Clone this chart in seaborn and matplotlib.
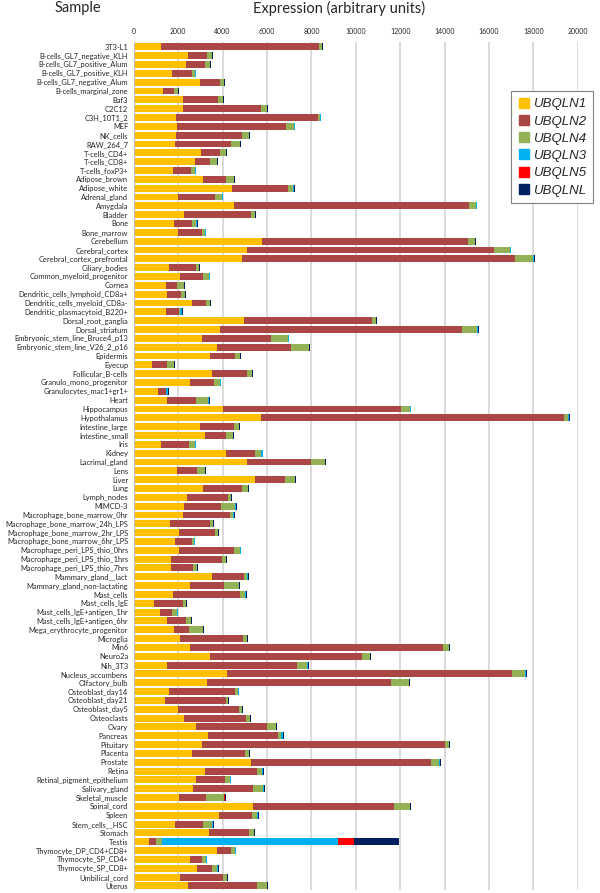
import numpy as np
import pandas as pd
import seaborn as sns
import matplotlib.pyplot as plt
from matplotlib.lines import Line2D

samples = ['3T3-L1', 'B-cells_GL7_negative_KLH', 'B-cells_GL7_positive_Alum', 'B-cells_GL7_positive_KLH',
           'B-cells_GL7_negative_Alum', 'B-cells_marginal_zone', 'Baf3', 'C2C12', 'C3H_10T1_2', 'MEF',
           'NK_cells', 'RAW_264_7', 'T-cells_CD4+', 'T-cells_CD8+', 'T-cells_foxP3+', 'Adipose_brown',
           'Adipose_white', 'Adrenal_gland', 'Amygdala', 'Bladder', 'Bone', 'Bone_marrow', 'Cerebellum',
           'Cerebral_cortex', 'Cerebral_cortex_prefrontal', 'Ciliary_bodies', 'Common_myeloid_progenitor',
           'Cornea', 'Dendritic_cells_lymphoid_CD8a+', 'Dendritic_cells_myeloid_CD8a-',
           'Dendritic_plasmacytoid_B220+', 'Dorsal_root_ganglia', 'Dorsal_striatum',
           'Embryonic_stem_line_Bruce4_p13', 'Embryonic_stem_line_V26_2_p16', 'Epidermis', 'Eyecup',
           'Follicular_B-cells', 'Granulo_mono_progenitor', 'Granulocytes_mac1+gr1+', 'Heart', 'Hippocampus',
           'Hypothalamus', 'Intestine_large', 'Intestine_small', 'Iris', 'Kidney', 'Lacrimal_gland', 'Lens',
           'Liver', 'Lung', 'Lymph_nodes', 'MIMCD-3', 'Macrophage_bone_marrow_0hr',
           'Macrophage_bone_marrow_24h_LPS', 'Macrophage_bone_marrow_2hr_LPS', 'Macrophage_bone_marrow_6hr_LPS',
           'Macrophage_peri_LPS_thio_0hrs', 'Macrophage_peri_LPS_thio_1hrs', 'Macrophage_peri_LPS_thio_7hrs',
           'Mammary_gland__lact', 'Mammary_gland_non-lactating', 'Mast_cells', 'Mast_cells_IgE',
           'Mast_cells_IgE+antigen_1hr', 'Mast_cells_IgE+antigen_6hr', 'Mega_erythrocyte_progenitor',
           'Microglia', 'Min6', 'Neuro2a', 'Nih_3T3', 'Nucleus_accumbens', 'Olfactory_bulb',
           'Osteoblast_day14', 'Osteoblast_day21', 'Osteoblast_day5', 'Osteoclasts', 'Ovary', 'Pancreas',
           'Pituitary', 'Placenta', 'Prostate', 'Retina', 'Retinal_pigment_epithelium', 'Salivary_gland',
           'Skeletal_muscle', 'Spinal_cord', 'Spleen', 'Stem_cells__HSC', 'Stomach', 'Testis',
           'Thymocyte_DP_CD4+CD8+', 'Thymocyte_SP_CD4+', 'Thymocyte_SP_CD8+', 'Umbilical_cord', 'Uterus']

ubqln1 = [1240, 2450, 2360, 1720, 2980, 1310, 2210, 2210, 1900, 1930,
          1900, 1860, 3020, 2760, 1760, 3100, 4430, 1980, 4520, 2260,
          1810, 1980, 5780, 5090, 4880, 1600, 2100, 1470, 1500, 2600,
          1450, 4970, 3900, 3050, 3740, 3450, 810, 3520, 2530, 1070,
          1500, 4030, 5720, 2970, 3210, 1220, 4170, 5090, 1930, 5450,
          3100, 2400, 2260, 2210, 1620, 2030, 1840, 2050, 1660, 1670,
          3520, 2520, 1760, 900, 1170, 1480, 1830, 2100, 2520, 3450,
          1500, 4190, 3310, 1590, 1410, 2000, 2260, 2780, 3340, 3070,
          2640, 5290, 3220, 2780, 2660, 2050, 5380, 3830, 1860, 3380,
          670, 3760, 2530, 2830, 2090, 2430]
ubqln2 = [7120, 830, 860, 900, 900, 500, 1580, 3510, 6410, 4930,
          2960, 2500, 860, 690, 810, 1040, 2520, 1680, 10580, 3020,
          810, 1090, 9290, 11120, 12310, 1190, 1000, 460, 620, 660,
          570, 5770, 10880, 3120, 3330, 1100, 670, 1570, 1070, 380,
          1290, 8000, 13660, 1530, 950, 1280, 1310, 2890, 930, 1360,
          1780, 1860, 1670, 2120, 1810, 1630, 780, 2470, 2310, 990,
          1450, 1530, 3020, 1310, 550, 860, 670, 2830, 11410, 6830,
          5860, 12860, 8280, 2960, 2730, 2740, 2810, 3220, 3160, 10950,
          2360, 8110, 2330, 1320, 2720, 1190, 6360, 1500, 1240, 1810,
          330, 640, 520, 690, 1930, 3140]
ubqln4 = [100, 230, 190, 150, 170, 170, 220, 260, 80, 360,
          330, 410, 270, 290, 200, 360, 240, 320, 330, 170,
          200, 150, 290, 740, 780, 140, 290, 330, 170, 150,
          70, 170, 700, 790, 810, 220, 310, 230, 290, 20,
          570, 420, 180, 220, 300, 270, 270, 620, 340, 430,
          260, 100, 650, 160, 120, 130, 100, 270, 180, 180,
          150, 670, 230, 130, 230, 230, 600, 150, 260, 340,
          460, 590, 800, 150, 100, 120, 150, 390, 120, 180,
          190, 370, 220, 240, 460, 810, 690, 240, 420, 220,
          280, 170, 210, 250, 170, 430]
ubqln3 = [20, 20, 20, 20, 20, 20, 20, 20, 20, 20,
          20, 20, 20, 20, 20, 20, 20, 20, 20, 20,
          20, 20, 20, 20, 60, 20, 20, 20, 20, 20,
          80, 20, 20, 20, 20, 20, 20, 20, 20, 80,
          20, 20, 60, 20, 20, 20, 60, 20, 20, 20,
          20, 20, 20, 40, 20, 20, 20, 20, 20, 20,
          20, 20, 60, 20, 20, 20, 20, 20, 20, 20,
          20, 20, 20, 20, 20, 20, 20, 20, 100, 20,
          20, 20, 60, 20, 20, 20, 20, 20, 50, 20,
          7940, 20, 20, 20, 20, 20]
ubqln5 = [0, 0, 0, 0, 0, 0, 0, 0, 0, 0,
          0, 0, 0, 0, 0, 0, 0, 0, 0, 0,
          0, 0, 0, 0, 0, 0, 0, 0, 0, 0,
          0, 0, 0, 0, 0, 0, 0, 0, 0, 0,
          0, 0, 0, 0, 0, 0, 0, 0, 0, 0,
          0, 0, 0, 0, 0, 0, 0, 0, 0, 0,
          0, 0, 0, 0, 0, 0, 0, 0, 0, 0,
          0, 0, 0, 0, 0, 0, 0, 0, 0, 0,
          0, 0, 0, 0, 0, 50, 0, 0, 0, 0,
          710, 0, 0, 0, 0, 0]
ubqlnl = [30, 30, 30, 30, 30, 30, 30, 30, 30, 30,
          30, 30, 30, 30, 30, 30, 30, 30, 30, 30,
          30, 30, 30, 30, 30, 30, 30, 30, 30, 30,
          30, 30, 30, 30, 30, 30, 30, 30, 30, 30,
          30, 30, 30, 30, 30, 30, 30, 30, 30, 30,
          30, 30, 30, 30, 30, 30, 30, 30, 30, 30,
          30, 30, 30, 30, 30, 30, 30, 30, 30, 30,
          30, 30, 30, 30, 30, 30, 30, 30, 30, 30,
          30, 30, 30, 30, 30, 30, 30, 30, 30, 30,
          2000, 30, 30, 30, 30, 30]

genes = ['UBQLN1', 'UBQLN2', 'UBQLN4', 'UBQLN3', 'UBQLN5', 'UBQLNL']
colors = ['#FFC000', '#AA4643', '#92B255', '#00B0F0', '#FF0000', '#002060']

df = pd.DataFrame({'Sample': samples, 'UBQLN1': ubqln1, 'UBQLN2': ubqln2, 'UBQLN4': ubqln4,
                   'UBQLN3': ubqln3, 'UBQLN5': ubqln5, 'UBQLNL': ubqlnl})
cum = df[genes].cumsum(axis=1)

sns.set_style('white')
plt.rcParams['font.family'] = ['Lato', 'DejaVu Sans']

fig = plt.figure(figsize=(6, 8.93), dpi=100)
ax = fig.add_axes([0.223, 0.003, 0.74, 0.9495])

# stacked bars: draw cumulative totals from the outermost inwards
for gene, col in reversed(list(zip(genes, colors))):
    sns.barplot(x=cum[gene], y=df['Sample'], color=col, orient='h', width=0.78,
                errorbar=None, linewidth=0, saturation=1, ax=ax)

ax.set_xlim(0, 20000)
ax.set_xticks(np.arange(0, 20001, 2000))
ax.xaxis.tick_top()
ax.tick_params(axis='x', labelsize=5, length=0, pad=5)
ax.tick_params(axis='y', labelsize=5.4, length=0, pad=4)
ax.set_xlabel('')
ax.set_ylabel('')
ax.grid(axis='x', color='#d4d4d4', lw=1.2)
ax.set_axisbelow(True)
for s in ['top', 'right', 'bottom']:
    ax.spines[s].set_visible(False)
ax.spines['left'].set_color('#bfbfbf')
ax.spines['left'].set_linewidth(0.8)

fig.text(0.13, 0.991, 'Sample', ha='center', va='center', fontsize=10.5)
fig.text(0.565, 0.991, 'Expression (arbitrary units)', ha='center', va='center', fontsize=10.5)

handles = [Line2D([], [], marker='s', ls='none', color=c, markersize=6.5) for c in colors]
leg = fig.legend(handles, genes, loc='upper right', bbox_to_anchor=(0.999, 0.905),
                 prop={'family': 'Liberation Sans', 'style': 'italic', 'size': 9.5},
                 frameon=True, fancybox=False, edgecolor='#808080', framealpha=1,
                 labelspacing=0.38, handletextpad=0.2, handlelength=1.0, borderpad=0.5)
leg.get_frame().set_linewidth(0.8)

fig.savefig('out.png', dpi=100)
